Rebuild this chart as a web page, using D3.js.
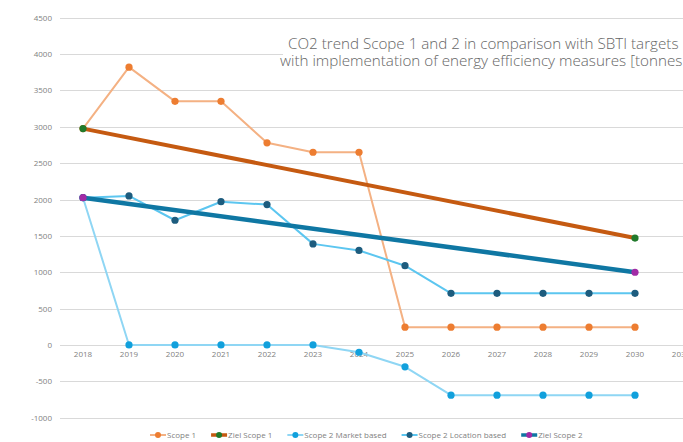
<!DOCTYPE html>
<html>
<head>
<meta charset="utf-8">
<script src="https://cdn.jsdelivr.net/npm/d3@7"></script>
<style>
  html,body{margin:0;padding:0;background:#fff;overflow:hidden;}
  svg{display:block;font-family:"Open Sans",sans-serif;}
</style>
</head>
<body>
<svg id="chart" width="683" height="442"></svg>
<script>
/* ---- data ---- */
var years=[2018,2019,2020,2021,2022,2023,2024,2025,2026,2027,2028,2029,2030,2031];
var scope1=[2975,3820,3350,3350,2780,2650,2650,245,245,245,245,245,245,null];
var zielScope1=[2975,null,null,null,null,null,null,null,null,null,null,null,1470,null];
var scope2Market=[2025,0,0,0,0,0,-100,-300,-690,-690,-690,-690,-690,null];
var scope2Location=[2025,2050,1715,1970,1930,1390,1300,1090,710,710,710,710,710,null];
var zielScope2=[2025,null,null,null,null,null,null,null,null,null,null,null,1000,null];
var yTicks=[-1000,-500,0,500,1000,1500,2000,2500,3000,3500,4000,4500];
var titleLines=['CO2 trend Scope 1 and 2 in comparison with SBTI targets',
                'with implementation of energy efficiency measures [tonnes CO2]'];

var series=[
  {name:'Scope 1',vals:scope1,line:'#f4b183',dot:'#ed7d31',w:2,gaps:false},
  {name:'Ziel Scope 1',vals:zielScope1,line:'#c55a11',dot:'#217a2b',w:4,gaps:true},
  {name:'Scope 2 Market based',vals:scope2Market,line:'#8fd6f4',dot:'#11a0dc',w:2,gaps:false},
  {name:'Scope 2 Location based',vals:scope2Location,line:'#5cc6f0',dot:'#1d5c7e',w:2,gaps:false},
  {name:'Ziel Scope 2',vals:zielScope2,line:'#0f77a3',dot:'#a12ba5',w:4.5,gaps:true}
];

var svg=d3.select('#chart');
var X0=60, STEP=46;
var x=d3.scaleBand().domain(years).range([X0,X0+STEP*years.length]);
var y=d3.scaleLinear().domain([-1000,4500]).range([417.7,17.7]);
var cx=function(yr){return x(yr)+x.bandwidth()/2};

/* grid */
svg.append('g').selectAll('line').data(yTicks).join('line')
  .attr('x1',X0).attr('x2',700)
  .attr('y1',function(d){return Math.round(y(d))+0.5}).attr('y2',function(d){return Math.round(y(d))+0.5})
  .attr('stroke','#d9d9d9').attr('stroke-width',1);

/* y labels */
svg.append('g').selectAll('text').data(yTicks).join('text')
  .attr('x',52).attr('y',function(d){return y(d)+3})
  .attr('text-anchor','end').attr('font-size','8px').attr('fill','#7f7f7f')
  .text(function(d){return d});

/* x labels just under the zero line */
svg.append('g').selectAll('text').data(years).join('text')
  .attr('x',function(d){return cx(d)}).attr('y',y(0)+12.5)
  .attr('text-anchor','middle').attr('font-size','8px').attr('fill','#7f7f7f')
  .text(function(d){return d});

/* title box */
svg.append('rect').attr('x',283).attr('y',30).attr('width',420).attr('height',42).attr('fill','#fff');
svg.append('g').selectAll('text').data(titleLines).join('text')
  .attr('x',function(d,i){return i===0?288:280}).attr('y',function(d,i){return 49+i*17})
  .attr('font-size','15.2px').attr('font-weight',300).attr('fill','#666')
  .text(function(d){return d});

/* series */
series.forEach(function(s){
  var pts=years.map(function(yr,i){return {yr:yr,v:s.vals[i]}});
  var defined=pts.filter(function(p){return p.v!=null});
  var ln=d3.line()
    .defined(function(p){return p.v!=null})
    .x(function(p){return cx(p.yr)}).y(function(p){return y(p.v)});
  svg.append('path').datum(s.gaps?defined:pts)
    .attr('d',ln).attr('fill','none').attr('stroke',s.line)
    .attr('stroke-width',s.w).attr('stroke-linejoin','round');
  svg.append('g').selectAll('circle').data(defined).join('circle')
    .attr('cx',function(p){return cx(p.yr)}).attr('cy',function(p){return y(p.v)})
    .attr('r',3.6).attr('fill',s.dot);
});

/* legend */
var lx=150, ly=435;
series.forEach(function(s){
  var g=svg.append('g');
  g.append('line').attr('x1',lx).attr('x2',lx+16).attr('y1',ly).attr('y2',ly)
    .attr('stroke',s.line).attr('stroke-width',s.w>3?3.5:2);
  g.append('circle').attr('cx',lx+8).attr('cy',ly).attr('r',3).attr('fill',s.dot);
  var t=g.append('text').attr('x',lx+17).attr('y',ly+3).attr('font-size','8px').attr('fill','#7f7f7f').text(s.name);
  lx+=17+t.node().getComputedTextLength()+15;
});
</script>
</body>
</html>
